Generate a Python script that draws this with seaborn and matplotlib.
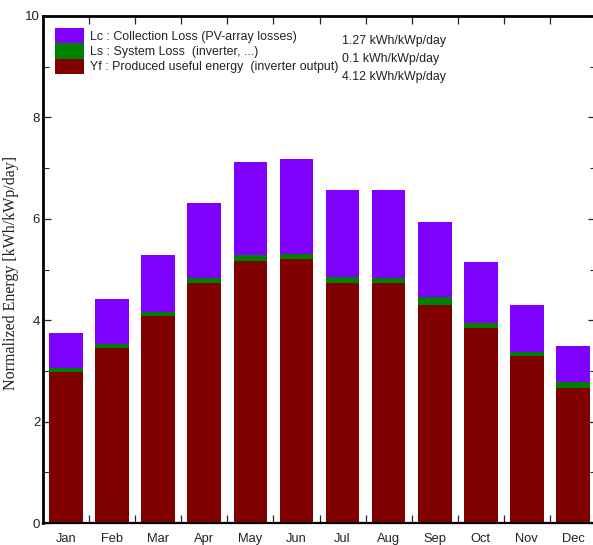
import numpy as np
import pandas as pd
import matplotlib
matplotlib.use("Agg")
import matplotlib.pyplot as plt
import seaborn as sns
from matplotlib.patches import Patch

months = ["Jan", "Feb", "Mar", "Apr", "May", "Jun", "Jul", "Aug", "Sep", "Oct", "Nov", "Dec"]
yf = [2.98, 3.46, 4.08, 4.73, 5.17, 5.20, 4.73, 4.74, 4.30, 3.85, 3.29, 2.66]
ls = [0.07, 0.07, 0.08, 0.10, 0.11, 0.11, 0.12, 0.09, 0.15, 0.09, 0.08, 0.13]
lc = [0.70, 0.88, 1.13, 1.49, 1.84, 1.86, 1.71, 1.73, 1.48, 1.20, 0.92, 0.70]

legend_labels = ["Lc : Collection Loss (PV-array losses)",
                 "Ls : System Loss  (inverter, ...)",
                 "Yf : Produced useful energy  (inverter output)"]
legend_values = ["1.27 kWh/kWp/day", "0.1 kWh/kWp/day", "4.12 kWh/kWp/day"]

c_lc = "#8000FF"
c_ls = "#008000"
c_yf = "#800000"

sns.set_style("ticks")
plt.rcParams["font.family"] = ["Liberation Sans", "DejaVu Sans"]

df = pd.DataFrame({"month": months, "yf": yf, "ls": ls, "lc": lc})
df["mid"] = df["yf"] + df["ls"]
df["top"] = df["mid"] + df["lc"]

W, H = 593, 545
L, R, T, B = 43, 596, 16, 523
fig = plt.figure(figsize=(W/100, H/100), dpi=100)
ax = fig.add_axes([L/W, 1 - B/H, (R - L)/W, (B - T)/H])

bw = 0.73
sns.barplot(data=df, x="month", y="top", color=c_lc, saturation=1, width=bw,
            order=months, ax=ax, linewidth=0)
sns.barplot(data=df, x="month", y="mid", color=c_ls, saturation=1, width=bw,
            order=months, ax=ax, linewidth=0)
sns.barplot(data=df, x="month", y="yf", color=c_yf, saturation=1, width=bw,
            order=months, ax=ax, linewidth=0)

ax.set_ylim(0, 10)
ax.set_xlim(-0.5, 11.5)
ax.set_xlabel("")
ax.set_ylabel("Normalized Energy [kWh/kWp/day]", family=["Liberation Serif", "DejaVu Serif"],
              fontsize=11.5, color="#222222")
ax.yaxis.set_label_coords(19/W, 0.5, transform=fig.transFigure)
ax.set_yticks([0, 2, 4, 6, 8, 10])
ax.set_yticks([1, 3, 5, 7, 9], minor=True)
ax.set_xticks(range(12))
ax.set_xticklabels(months)
ax.set_xticks(np.arange(0.5, 11.0, 1.0), minor=True)

ax.tick_params(axis="y", which="major", direction="in", length=6, width=0.9,
               left=True, right=True, labelsize=9.5, colors="#222222", pad=2)
ax.tick_params(axis="y", which="minor", direction="in", length=4, width=0.8,
               left=True, right=True)
ax.tick_params(axis="x", which="major", length=0, labelsize=9.3, colors="#222222", pad=7)
ax.tick_params(axis="x", which="minor", direction="in", length=6, width=0.9,
               top=True, bottom=True)

for side in ["left", "top"]:
    ax.spines[side].set_linewidth(2.0)
ax.spines["bottom"].set_linewidth(1.6)
ax.spines["right"].set_linewidth(1.6)
for s in ax.spines.values():
    s.set_color("black")

handles = [Patch(facecolor=c_lc, edgecolor="none"),
           Patch(facecolor=c_ls, edgecolor="none"),
           Patch(facecolor=c_yf, edgecolor="none")]
fs = 8.9
aw = R - L
ah = B - T
leg = ax.legend(handles, legend_labels, loc="upper left",
                bbox_to_anchor=((55 - L)/aw, (B - 28)/ah), borderaxespad=0, borderpad=0,
                frameon=False, fontsize=fs, handlelength=2.35, handleheight=1.53,
                labelspacing=0, handletextpad=0.5)
for t in leg.get_texts():
    t.set_color("#222222")
ys = [(B - 41)/ah, (B - 59)/ah, (B - 77)/ah]
for v, yv in zip(legend_values, ys):
    ax.text((342 - L)/aw, yv, v, transform=ax.transAxes, fontsize=fs,
            va="center", ha="left", color="#222222")

fig.savefig("out.png", dpi=100)
